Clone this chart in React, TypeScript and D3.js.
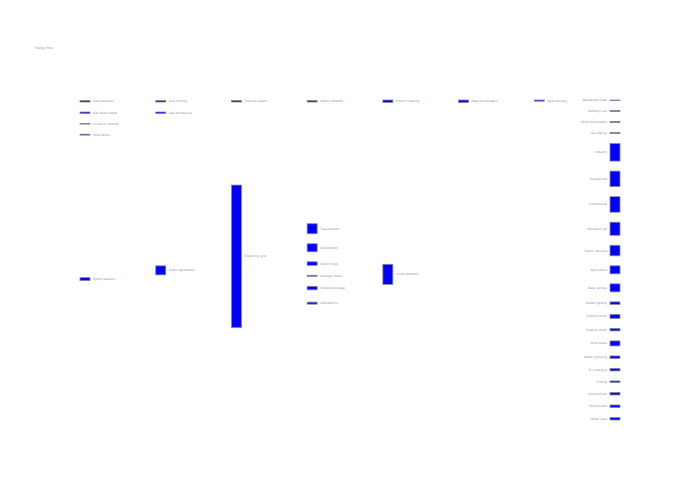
import React from "react";
import * as d3 from "d3";

const chartTitle = "Energy flow";

const nodeNames = [
  "Coal reserves", "Gas field output", "Crude oil imports", "Wind farms", "Hydro stations",
  "Coal mining", "Gas processing", "Hydro generation",
  "Thermal plants", "Electricity grid",
  "Steam network", "Transmission", "Distribution", "Export lines", "Storage losses", "Pumped storage", "Substations",
  "District heating", "Local networks",
  "Heat exchangers",
  "Heat delivery",
  "Residential heat", "Refinery use", "Wind curtailment", "Gas flaring", "Industry", "Households", "Commercial",
  "Transport rail", "Public services", "Agriculture", "Data centres", "Street lighting", "Exports north",
  "Exports south", "Grid losses", "Water pumping", "EV charging", "Fishing", "Construction", "Mining sites", "Other uses",
];

const nodeStages = [
  0, 0, 0, 0, 0,
  1, 1, 1,
  2, 2,
  3, 3, 3, 3, 3, 3, 3,
  4, 4,
  5,
  6,
  7, 7, 7, 7, 7, 7, 7, 7, 7, 7, 7, 7, 7, 7, 7, 7, 7, 7, 7, 7, 7,
];

const nodeValues = [
  1.5, 1.5, 0.6, 1, 3,
  1.5, 1.5, 9,
  1.5, 142,
  1.5, 10, 8, 3.5, 1, 3.5, 2,
  2.5, 20,
  2.5,
  1.2,
  0.5, 1, 1, 1, 17.5, 15.5, 15.5, 13, 10.5, 8, 8, 2.5, 4, 2.5, 5, 2.5, 2.5, 1.5, 2.5, 2.5, 2.5,
];

const linkSources = [
  "Coal reserves", "Gas field output", "Crude oil imports", "Wind farms",
  "Coal mining", "Gas processing", "Thermal plants", "Steam network", "District heating", "Heat exchangers", "Heat delivery",
  "Hydro stations", "Hydro stations", "Hydro generation", "Hydro generation",
  "Electricity grid", "Electricity grid", "Electricity grid", "Electricity grid", "Electricity grid", "Electricity grid",
  "Electricity grid", "Electricity grid", "Electricity grid", "Electricity grid",
  "Electricity grid", "Electricity grid", "Electricity grid", "Electricity grid", "Electricity grid",
  "Electricity grid", "Electricity grid", "Electricity grid", "Electricity grid",
  "Transmission", "Distribution", "Distribution", "Export lines", "Export lines", "Storage losses", "Pumped storage", "Substations",
  "Local networks", "Local networks",
];

const linkTargets = [
  "Coal mining", "Gas processing", "Refinery use", "Wind curtailment",
  "Thermal plants", "Thermal plants", "Steam network", "District heating", "Heat exchangers", "Heat delivery", "Residential heat",
  "Hydro generation", "Data centres", "Electricity grid", "Data centres",
  "Transmission", "Distribution", "Export lines", "Storage losses", "Pumped storage", "Substations",
  "Industry", "Households", "Commercial", "Transport rail",
  "Exports north", "Exports south", "Grid losses", "Water pumping", "EV charging",
  "Fishing", "Construction", "Mining sites", "Other uses",
  "Transport rail", "Transport rail", "Public services", "Public services", "Local networks", "Local networks", "Local networks", "Street lighting",
  "Agriculture", "Data centres",
];

const linkValues = [
  1.5, 1.5, 0.6, 1,
  1.5, 1.5, 1.5, 1.5, 2.5, 1.2, 1.2,
  1.5, 1.5, 5, 4,
  10, 8, 3.5, 1, 3.5, 2,
  10, 10, 10, 10,
  4, 2.5, 5, 2.5, 2.5,
  1.5, 2.5, 2.5, 2.5,
  10, 4, 4, 1.75, 1.75, 1, 3.5, 2,
  15, 5,
];

type SNode = {
  name: string; value: number; stage: number;
  sourceLinks: SLink[]; targetLinks: SLink[];
  x0: number; x1: number; y0: number; y1: number;
};
type SLink = { source: SNode; target: SNode; value: number };

function layoutFlow(
  extent: [[number, number], [number, number]],
  nodeWidth: number,
  nodePadding: number
) {
  const [[x0, y0], [x1, y1]] = extent;
  const nodes: SNode[] = nodeNames.map((name, i) => ({
    name, value: nodeValues[i], stage: nodeStages[i], sourceLinks: [], targetLinks: [],
    x0: 0, x1: 0, y0: 0, y1: 0,
  }));
  const byName = new Map(nodes.map((n) => [n.name, n]));
  linkSources.forEach((s, i) => {
    const l: SLink = { source: byName.get(s)!, target: byName.get(linkTargets[i])!, value: linkValues[i] };
    l.source.sourceLinks.push(l);
    l.target.targetLinks.push(l);
  });

  const nCols = (d3.max(nodes, (d) => d.stage) as number) + 1;
  const xPos = d3.scalePoint<number>().domain(d3.range(nCols)).range([x0, x1 - nodeWidth]);
  const columns: SNode[][] = Array.from({ length: nCols }, () => []);
  for (const node of nodes) {
    node.x0 = xPos(node.stage)!;
    node.x1 = node.x0 + nodeWidth;
    columns[node.stage].push(node);
  }

  const py = Math.min(nodePadding, (y1 - y0) / ((d3.max(columns, (c) => c.length) as number) - 1));
  const ky = d3.min(columns, (c) => (y1 - y0 - (c.length - 1) * py) / d3.sum(c, (d) => d.value)) as number;
  const yScale = d3.scaleLinear().domain([0, 1]).range([0, ky]);

  const resolve = (col: SNode[]) => {
    let y = y0;
    for (const n of col) {
      const dy = y - n.y0;
      if (dy > 0) { n.y0 += dy; n.y1 += dy; }
      y = n.y1 + py;
    }
    y = y1;
    for (let i = col.length - 1; i >= 0; --i) {
      const n = col[i];
      const dy = n.y1 - y;
      if (dy > 0) { n.y0 -= dy; n.y1 -= dy; }
      y = n.y0 - py;
    }
  };

  const last = columns[nCols - 1];
  {
    let y = y0;
    for (const n of last) {
      n.y0 = y;
      n.y1 = y + yScale(n.value);
      y = n.y1 + py;
    }
  }
  for (let i = nCols - 2; i >= 0; --i) {
    const col = columns[i];
    for (const n of col) {
      const h = yScale(n.value);
      const w = d3.sum(n.sourceLinks, (l) => l.value);
      const c = w > 0
        ? d3.sum(n.sourceLinks, (l) => l.value * (l.target.y0 + l.target.y1) / 2) / w
        : y0 + h / 2;
      n.y0 = c - h / 2;
      n.y1 = c + h / 2;
    }
    resolve(col);
  }
  return { nodes, nCols };
}

export default function App() {
  const width = 700;
  const height = 500;
  const { nodes, nCols } = layoutFlow([[80, 100], [620, 420]], 10, 10);
  return (
    <svg width={width} height={height} style={{ position: "absolute", left: 0, top: 0, background: "#fff" }}
      fontFamily="DejaVu Sans, sans-serif">
      <text x={35} y={49} fontSize={3} fill="#8a90b0">{chartTitle}</text>
      <g>
        {nodes.map((n) => (
          <rect key={n.name} x={n.x0} y={n.y0} width={n.x1 - n.x0} height={Math.max(0.5, n.y1 - n.y0)}
            fill="#0000ff" stroke="#8a8a9a" strokeWidth={0.8} />
        ))}
      </g>
      <g fontSize={3} fill="#8a90b0">
        {nodes.map((n) => {
          const isLast = n.stage === nCols - 1;
          return (
            <text key={n.name} x={isLast ? n.x0 - 3 : n.x1 + 3} y={(n.y0 + n.y1) / 2} dy="0.35em"
              textAnchor={isLast ? "end" : "start"}>{n.name}</text>
          );
        })}
      </g>
    </svg>
  );
}
